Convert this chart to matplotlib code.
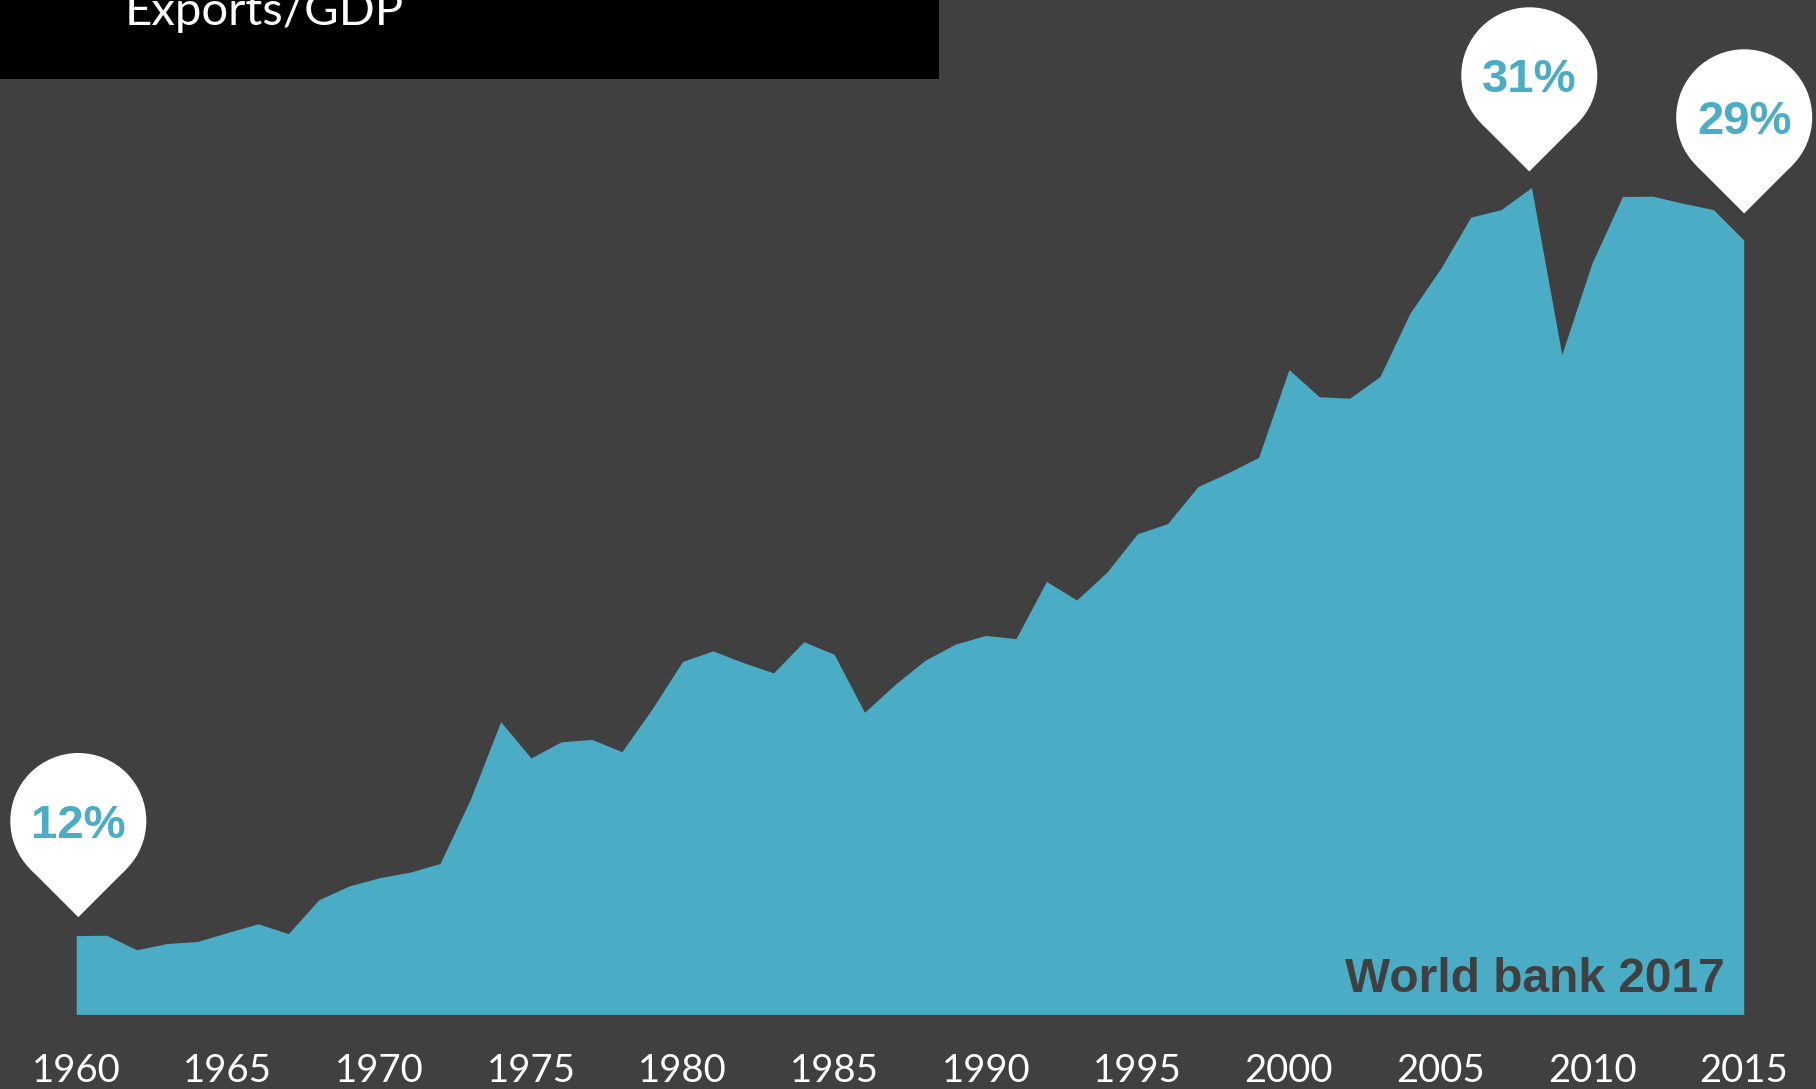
import matplotlib
matplotlib.use('Agg')
import matplotlib.pyplot as plt
from matplotlib.patches import Circle, Polygon, Rectangle

# Exports/GDP values
years = list(range(1960, 2016))
exports_gdp = [
    12.00, 12.01, 11.64, 11.80, 11.85, 12.08, 12.30, 12.05, 12.91, 13.26,
    13.47, 13.61, 13.83, 15.46, 17.43, 16.51, 16.92, 16.98, 16.67, 17.76,
    18.96, 19.23, 18.93, 18.67, 19.46, 19.14, 17.67, 18.37, 18.99, 19.40,
    19.62, 19.54, 20.99, 20.52, 21.23, 22.20, 22.46, 23.40, 23.75, 24.14,
    26.37, 25.68, 25.64, 26.19, 27.81, 28.93, 30.24, 30.43, 30.99, 26.75,
    29.08, 30.76, 30.77, 30.59, 30.43, 29.66,
]
tick_years = list(range(1960, 2016, 5))

# callouts: label, centre of the pin in pixels
pin_labels = ['12%', '31%', '29%']
pin_centres = [(78.3, 821), (1529.3, 75.3), (1744.2, 117.3)]
pin_radius = 68

bg = '#404040'
teal = '#4BACC6'
W, H = 1816, 1089

fig = plt.figure(figsize=(W / 100, H / 100), dpi=100, facecolor=bg)

# Grafica principal, sin ejes visibles salvo las etiquetas de los años
ax = fig.add_axes([76.2 / W, (H - 1014.4) / H, (1743.7 - 76.2) / W, 1014.4 / H])
ax.set_facecolor('none')
ax.fill_between(years, exports_gdp, 10, color=teal, linewidth=0)
ax.set_xlim(1960, 2015)
ax.set_ylim(10, 35.75)
ax.set_yticks([])
ax.set_xticks(tick_years)
ax.set_xticklabels([str(y) for y in tick_years], family='Lato', fontsize=27.5, color='white')
ax.tick_params(axis='x', length=0, pad=28)
for s in ax.spines.values():
    s.set_visible(False)

# Capa en pixeles para el titulo y los globos
over = fig.add_axes([0, 0, 1, 1])
over.set_xlim(0, W)
over.set_ylim(H, 0)
over.axis('off')

over.add_patch(Rectangle((0, 0), 938.5, 79, color='black', linewidth=0))
over.text(125, 25, 'Exports/GDP', family='Lato', fontsize=34, color='white',
          ha='left', va='baseline')

for label, (cx, cy) in zip(pin_labels, pin_centres):
    d = pin_radius * 0.7071
    over.add_patch(Circle((cx, cy), pin_radius, color='white', linewidth=0))
    over.add_patch(Polygon([(cx - d, cy + d), (cx + d, cy + d), (cx, cy + 2 * d)],
                           color='white', linewidth=0))
    over.text(cx, cy, label, family='Liberation Sans', fontweight='bold', fontsize=34,
              color=teal, ha='center', va='center_baseline')

over.text(1725, 992, 'World bank 2017', family='Liberation Sans', fontweight='bold',
          fontsize=34.5, color=bg, ha='right', va='baseline')

fig.savefig('out.png', dpi=100, facecolor=bg)
